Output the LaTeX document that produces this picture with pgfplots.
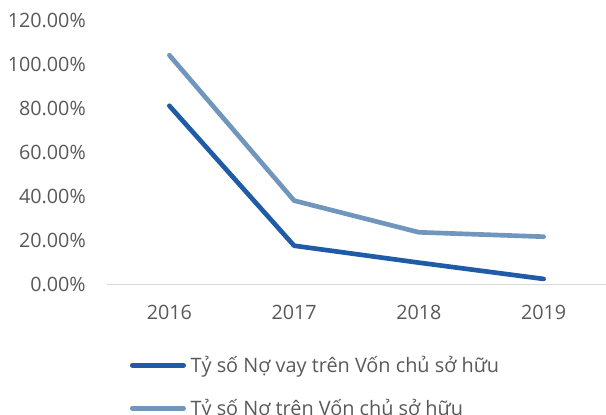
\documentclass[border=0pt]{standalone}
\usepackage{pgfplots}
\pgfplotsset{compat=1.18}
\usepackage{fontspec}
\setmainfont{Open Sans}
\definecolor{darkb}{HTML}{1F5BA6}
\definecolor{lightb}{HTML}{7096BE}
\definecolor{txt}{HTML}{595959}
\definecolor{axl}{HTML}{D9D9D9}
\begin{document}
\begin{tikzpicture}
\useasboundingbox (-80.25pt,-97.5pt) rectangle (374.25pt,213pt);
\begin{axis}[
  at={(0,0)}, anchor=south west,
  scale only axis, width=374.25pt, height=198pt,
  xmin=-0.5, xmax=3.5, ymin=0, ymax=120,
  axis x line*=bottom, axis y line*=left,
  x axis line style={draw=axl, line width=0.75pt},
  y axis line style={draw=none},
  major tick length=0pt,
  tick style={draw=none},
  xtick={0,1,2,3},
  xticklabels={2016,2017,2018,2019},
  ytick={0,20,40,60,80,100,120},
  yticklabels={0.00\%,20.00\%,40.00\%,60.00\%,80.00\%,100.00\%,120.00\%},
  ticklabel style={text=txt, font=\fontsize{14.8}{17}\selectfont, inner sep=0pt},
  yticklabel style={anchor=east, xshift=-15.75pt},
  xticklabel style={anchor=north, yshift=-15.5pt},
  legend style={at={(0.046,-0.2816)}, anchor=north west, draw=none, fill=none,
    inner sep=0pt, outer sep=0pt, row sep=21.75pt, column sep=3.5pt,
    font=\fontsize{14.9}{17}\selectfont, text=txt,
    nodes={inner sep=0pt, text height=10.5pt, text depth=0pt}},
  legend cell align=left,
  legend image code/.code={\draw[#1] (0pt,0pt) -- (38.5pt,0pt);},
  every axis plot/.append style={line width=3.5pt, line cap=round, line join=round},
]
\addplot[darkb, mark=none] coordinates {(0,81.0) (1,17.4) (2,9.7) (3,2.3)};
\addlegendentry{Tỷ số Nợ vay trên Vốn chủ sở hữu}
\addplot[lightb, mark=none] coordinates {(0,104.0) (1,37.9) (2,23.5) (3,21.5)};
\addlegendentry{Tỷ số Nợ trên Vốn chủ sở hữu}
\end{axis}
\end{tikzpicture}
\end{document}
